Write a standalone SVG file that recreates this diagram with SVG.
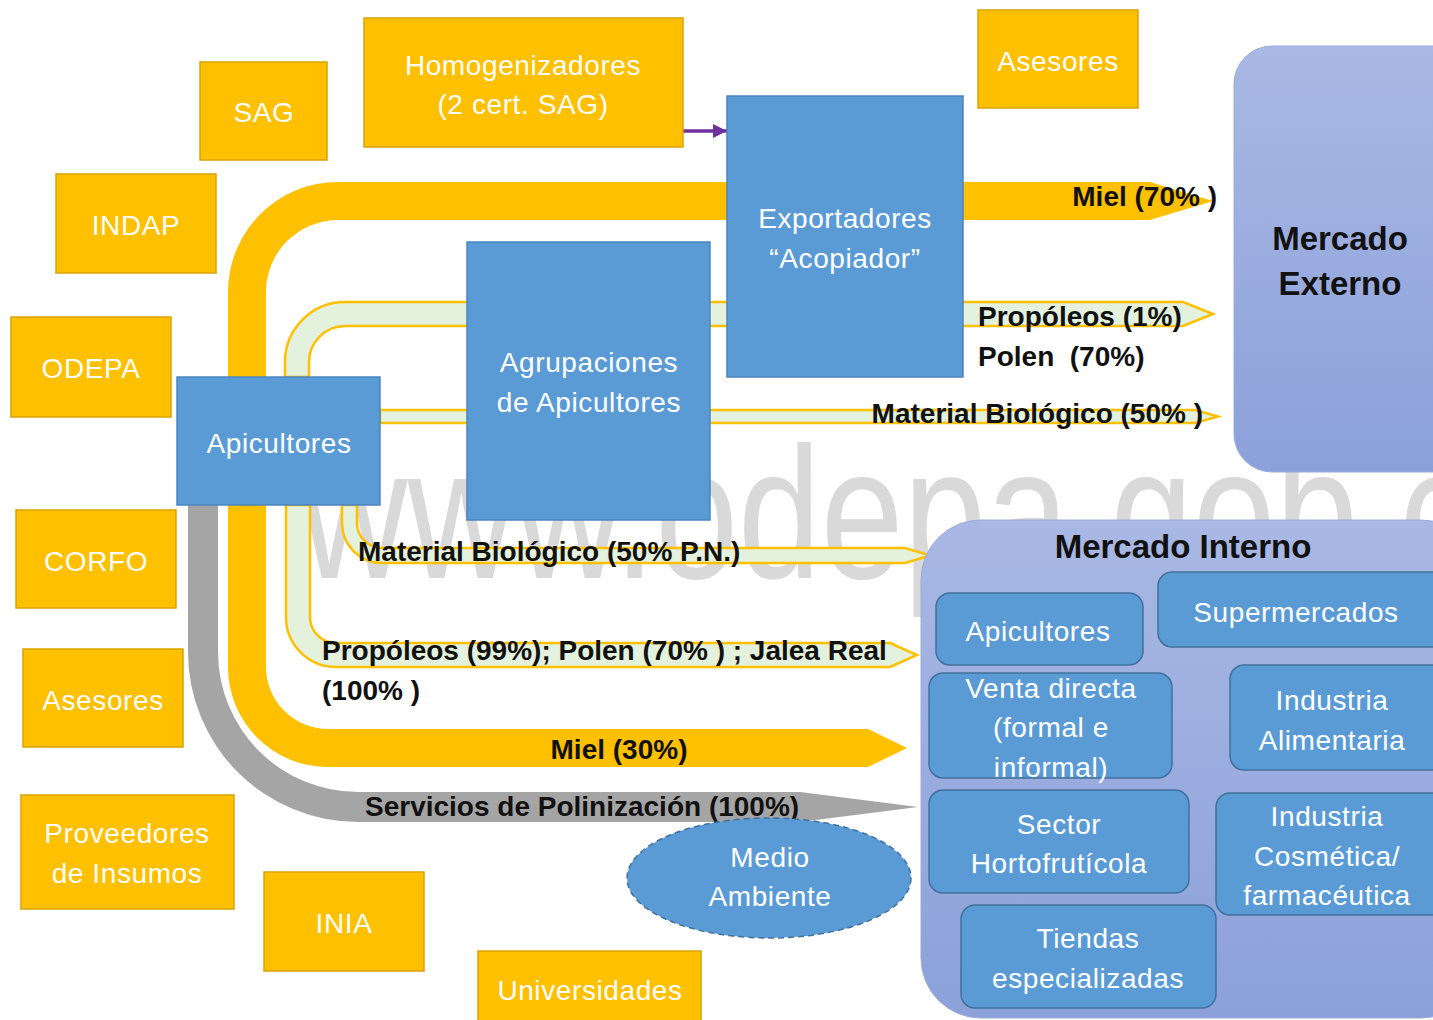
<svg xmlns="http://www.w3.org/2000/svg" width="1433" height="1020" viewBox="0 0 1433 1020">
<defs>
<style>
.yb{fill:#ffc000;stroke:#d9a400;stroke-width:1.5}
.bb{fill:#5b9bd5;stroke:#4a86be;stroke-width:1.5}
.ib{fill:#5b9bd5;stroke:#41719c;stroke-width:1.5}
.wt{font-family:"Liberation Sans",Arial,sans-serif;font-size:28px;fill:#ffffff;text-anchor:middle;letter-spacing:0.6px}
.lb{font-family:"Liberation Sans",Arial,sans-serif;font-size:28px;font-weight:bold;fill:#111111}
.tt{font-family:"Liberation Sans",Arial,sans-serif;font-size:33px;font-weight:bold;fill:#111111;text-anchor:middle}
.gold{fill:#ffc000}
.lg{fill:#e4f1dc;stroke:#ffc000;stroke-width:2.5;stroke-linejoin:miter}
.grey{fill:#a5a5a5}
.wm{font-family:"Liberation Sans",Arial,sans-serif;font-size:188px;fill:#d9d9d9}
</style>
<linearGradient id="mk" x1="0" y1="0" x2="0" y2="1">
<stop offset="0" stop-color="#a9b8e4"/>
<stop offset="1" stop-color="#8ca1da"/>
</linearGradient>
<marker id="pa" viewBox="0 0 10 10" refX="10" refY="5" markerWidth="4" markerHeight="4" orient="auto">
<path d="M0,0 L10,5 L0,10 z" fill="#7030a0"/>
</marker>
</defs>
<rect x="0" y="0" width="1433" height="1020" fill="#ffffff"/>

<text class="wm" x="300" y="578" textLength="1207" lengthAdjust="spacingAndGlyphs">www.odepa.gob.cl</text>

<g id="connectors">
<path id="flow-miel70" class="gold" d="M228,377 L228,292 A110,110 0 0 1 338,182 L1150,182 L1213,201 L1150,220 L338,220 A72,72 0 0 0 266,292 L266,377 Z"/>
<path id="flow-propoleos1" class="lg" d="M285,377 L285,362 A60,60 0 0 1 345,302 L1183,302 L1213,314 L1183,326 L345,326 A36,36 0 0 0 309,362 L309,377 Z"/>
<path id="flow-mb50" class="lg" d="M380,410 L1195,410 L1218,416.5 L1195,423 L380,423 Z"/>
<path id="flow-mbpn" class="lg" d="M342,505 L342,523 A40,40 0 0 0 382,563 L905,563 L930,555.5 L905,548 L382,548 A25,25 0 0 1 357,523 L357,505 Z"/>
<path id="flow-propoleos99" class="lg" d="M286,505 L286,617 A50,50 0 0 0 336,667 L890,667 L917,655 L890,643 L336,643 A26,26 0 0 1 310,617 L310,505 Z"/>
<path id="flow-miel30" class="gold" d="M228,505 L228,667 A100,100 0 0 0 328,767 L868,767 L907,748 L868,729 L328,729 A62,62 0 0 1 266,667 L266,505 Z"/>
<path id="flow-polinizacion" class="grey" d="M188,505 L188,652 A170,170 0 0 0 358,822 L800,822 L918,807 L800,792 L358,792 A140,140 0 0 1 218,652 L218,505 Z"/>
<line id="flow-homog" x1="683" y1="131" x2="727" y2="131" stroke="#7030a0" stroke-width="3.5" marker-end="url(#pa)"/>
</g>

<g id="flow-labels">
<text class="lb" x="1217" y="206" text-anchor="end">Miel (70% )</text>
<text class="lb" x="978" y="326">Propóleos (1%)</text>
<text class="lb" x="978" y="366" xml:space="preserve">Polen  (70%)</text>
<text class="lb" x="1203" y="423" text-anchor="end">Material Biológico (50% )</text>
<text class="lb" x="358" y="561">Material Biológico (50% P.N.)</text>
<text class="lb" x="322" y="660">Propóleos (99%); Polen (70% ) ; Jalea Real</text>
<text class="lb" x="322" y="700">(100% )</text>
<text class="lb" x="619" y="759" text-anchor="middle">Miel (30%)</text>
<text class="lb" x="365" y="816">Servicios de Polinización (100%)</text>
</g>

<g id="sag"><rect class="yb" x="200" y="62" width="127" height="98"/><text class="wt" x="264" y="122">SAG</text></g>
<g id="homogenizadores"><rect class="yb" x="364" y="18" width="319" height="129"/><text class="wt" x="523" y="75">Homogenizadores</text><text class="wt" x="523" y="114">(2 cert. SAG)</text></g>
<g id="asesores-top"><rect class="yb" x="978" y="10" width="160" height="98"/><text class="wt" x="1058" y="71">Asesores</text></g>
<g id="indap"><rect class="yb" x="56" y="174" width="160" height="99"/><text class="wt" x="136" y="235">INDAP</text></g>
<g id="odepa"><rect class="yb" x="11" y="317" width="160" height="100"/><text class="wt" x="91" y="378">ODEPA</text></g>
<g id="corfo"><rect class="yb" x="16" y="510" width="160" height="98"/><text class="wt" x="96" y="571">CORFO</text></g>
<g id="asesores-left"><rect class="yb" x="23" y="649" width="160" height="98"/><text class="wt" x="103" y="710">Asesores</text></g>
<g id="proveedores"><rect class="yb" x="21" y="795" width="213" height="114"/><text class="wt" x="127" y="843">Proveedores</text><text class="wt" x="127" y="883">de Insumos</text></g>
<g id="inia"><rect class="yb" x="264" y="872" width="160" height="99"/><text class="wt" x="344" y="933">INIA</text></g>
<g id="universidades"><rect class="yb" x="478" y="951" width="223" height="75"/><text class="wt" x="590" y="1000">Universidades</text></g>

<g id="apicultores"><rect class="bb" x="177" y="377" width="203" height="128"/><text class="wt" x="279" y="453">Apicultores</text></g>
<g id="agrupaciones"><rect class="bb" x="467" y="242" width="243" height="278"/><text class="wt" x="589" y="372">Agrupaciones</text><text class="wt" x="589" y="412">de Apicultores</text></g>
<g id="exportadores"><rect class="bb" x="727" y="96" width="236" height="281"/><text class="wt" x="845" y="228">Exportadores</text><text class="wt" x="845" y="268">“Acopiador”</text></g>

<g id="medio-ambiente"><ellipse cx="769" cy="878" rx="142" ry="60" fill="#5b9bd5" stroke="#41719c" stroke-width="1.5" stroke-dasharray="6 4"/><text class="wt" x="770" y="867">Medio</text><text class="wt" x="770" y="906">Ambiente</text></g>

<g id="mercado-externo"><rect x="1234" y="46" width="240" height="426" rx="38" fill="url(#mk)" stroke="#9aaade" stroke-width="1"/><text class="tt" x="1340" y="250">Mercado</text><text class="tt" x="1340" y="295">Externo</text></g>

<g id="mercado-interno">
<rect x="921" y="520" width="560" height="498" rx="60" fill="url(#mk)" stroke="#9aaade" stroke-width="1"/>
<text class="tt" x="1183" y="558">Mercado Interno</text>
<g id="mi-apicultores"><rect class="ib" x="936" y="593" width="207" height="72" rx="14"/><text class="wt" x="1038" y="641">Apicultores</text></g>
<g id="mi-supermercados"><rect class="ib" x="1158" y="572" width="290" height="75" rx="14"/><text class="wt" x="1296" y="622">Supermercados</text></g>
<g id="mi-venta"><rect class="ib" x="929" y="673" width="243" height="105" rx="14"/><text class="wt" x="1051" y="698">Venta directa</text><text class="wt" x="1051" y="737">(formal e</text><text class="wt" x="1051" y="777">informal)</text></g>
<g id="mi-alimentaria"><rect class="ib" x="1230" y="665" width="220" height="105" rx="14"/><text class="wt" x="1332" y="710">Industria</text><text class="wt" x="1332" y="750">Alimentaria</text></g>
<g id="mi-hortofruticola"><rect class="ib" x="929" y="790" width="260" height="103" rx="14"/><text class="wt" x="1059" y="834">Sector</text><text class="wt" x="1059" y="873">Hortofrutícola</text></g>
<g id="mi-cosmetica"><rect class="ib" x="1216" y="793" width="234" height="122" rx="14"/><text class="wt" x="1327" y="826">Industria</text><text class="wt" x="1327" y="866">Cosmética/</text><text class="wt" x="1327" y="905">farmacéutica</text></g>
<g id="mi-tiendas"><rect class="ib" x="961" y="905" width="255" height="103" rx="14"/><text class="wt" x="1088" y="948">Tiendas</text><text class="wt" x="1088" y="988">especializadas</text></g>
</g>
</svg>
